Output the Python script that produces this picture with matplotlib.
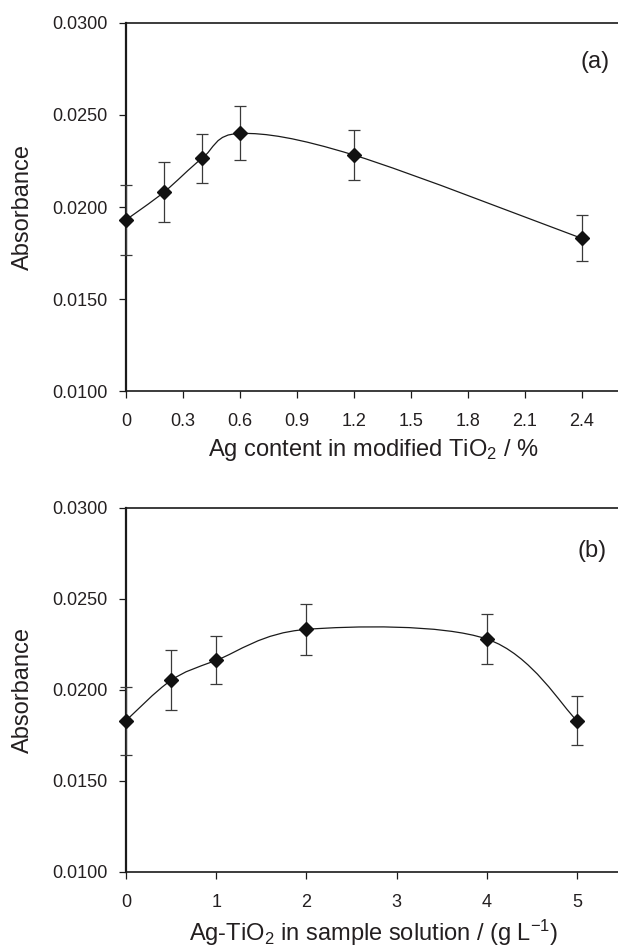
import numpy as np
import matplotlib
matplotlib.use("Agg")
import matplotlib.pyplot as plt
from matplotlib.path import Path
from matplotlib.patches import PathPatch

plt.rcParams['font.family'] = ['Liberation Sans', 'DejaVu Sans']
plt.rcParams['mathtext.fontset'] = 'custom'
plt.rcParams['mathtext.rm'] = 'Liberation Sans'
plt.rcParams['mathtext.it'] = 'Liberation Sans:italic'
plt.rcParams['mathtext.bf'] = 'Liberation Sans:bold'

# ---- data ----
ag_content = [0, 0.2, 0.4, 0.6, 1.2, 2.4]
abs_a = [0.01930, 0.02081, 0.02264, 0.02400, 0.02282, 0.01829]
err_a = [0.00190, 0.00163, 0.00135, 0.00147, 0.00134, 0.00125]

dose = [0, 0.5, 1, 2, 4, 5]
abs_b = [0.01832, 0.02053, 0.02163, 0.02333, 0.02280, 0.01832]
err_b = [0.00187, 0.00165, 0.00132, 0.00141, 0.00137, 0.00133]

xticks_a = [0, 0.3, 0.6, 0.9, 1.2, 1.5, 1.8, 2.1, 2.4]
xticklabels_a = ['0', '0.3', '0.6', '0.9', '1.2', '1.5', '1.8', '2.1', '2.4']
xticks_b = [0, 1, 2, 3, 4, 5]
xticklabels_b = ['0', '1', '2', '3', '4', '5']
yticks = [0.0100, 0.0150, 0.0200, 0.0250, 0.0300]
yticklabels = ['0.0100', '0.0150', '0.0200', '0.0250', '0.0300']

TXT = '#231f20'

def smooth_path(x, y, t=1/6):
    P = np.column_stack([x, y]).astype(float)
    n = len(P)
    verts = [P[0]]
    codes = [Path.MOVETO]
    for i in range(n - 1):
        p0 = P[i - 1] if i > 0 else P[i]
        p1 = P[i]
        p2 = P[i + 1]
        p3 = P[i + 2] if i + 2 < n else P[i + 1]
        c1 = p1 + (p2 - p0) * t
        c2 = p2 - (p3 - p1) * t
        verts += [c1, c2, p2]
        codes += [Path.CURVE4] * 3
    return Path(verts, codes)

fig = plt.figure(figsize=(6.18, 9.5), dpi=100)

def make_panel(rect, x, y, e, xlim, xt, xtl, xlabel, tag, tagpos):
    ax = fig.add_axes(rect)
    ax.add_patch(PathPatch(smooth_path(x, y), fill=False, lw=0.9,
                           edgecolor='#1a1a1a', transform=ax.transData, zorder=2))
    ax.errorbar(x, y, yerr=e, fmt='none', ecolor='#3a3a3a', elinewidth=0.9,
                capsize=4.5, capthick=0.9, zorder=3, clip_on=False)
    ax.plot(x, y, linestyle='none', marker='D', markersize=7,
            color='#111111', zorder=4, clip_on=False)
    ax.set_xlim(*xlim)
    ax.set_ylim(0.0100, 0.0300)
    ax.set_xticks(xt)
    ax.set_xticklabels(xtl)
    ax.set_yticks(yticks)
    ax.set_yticklabels(yticklabels)
    ax.spines['right'].set_visible(False)
    ax.spines['left'].set_linewidth(1.6)
    ax.spines['top'].set_linewidth(1.2)
    ax.spines['bottom'].set_linewidth(1.2)
    for s in ax.spines.values():
        s.set_color('#1a1a1a')
    ax.tick_params(axis='both', direction='out', length=5, width=0.9,
                   colors='#1a1a1a', labelcolor=TXT, labelsize=13)
    ax.tick_params(axis='x', pad=11)
    ax.tick_params(axis='y', pad=8.5)
    ax.set_ylabel('Absorbance', fontsize=17, color=TXT, labelpad=13)
    ax.set_xlabel(xlabel, fontsize=17, color=TXT, labelpad=5)
    ax.text(tagpos[0], tagpos[1], tag, fontsize=17, color=TXT,
            ha='center', va='center')
    return ax

make_panel([126/618, 1 - 391/950, 2.6*190/618, 368/950],
           ag_content, abs_a, err_a, (0, 2.6), xticks_a, xticklabels_a,
           r'Ag content in modified TiO$\mathregular{_2}$ / %', '(a)', (2.47, 0.02788))

make_panel([126/618, 1 - 872/950, 5.5*90.2/618, 364/950],
           dose, abs_b, err_b, (0, 5.5), xticks_b, xticklabels_b,
           r'Ag-TiO$\mathregular{_2}$ in sample solution / (g L$\mathregular{^{-1}}$)',
           '(b)', (5.17, 0.02764))

fig.savefig('out.png', dpi=100)
